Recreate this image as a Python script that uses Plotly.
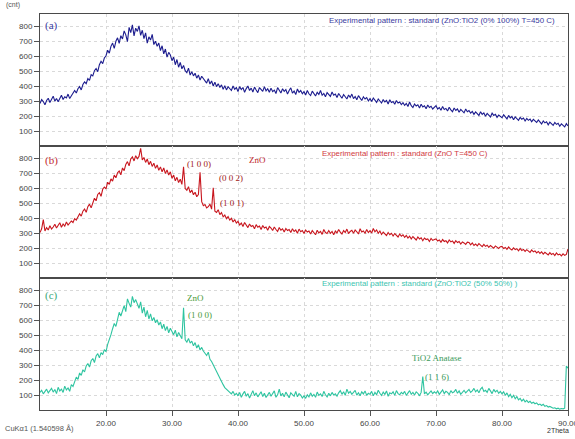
import plotly.graph_objects as go
from plotly.subplots import make_subplots

# 2theta sampling grid (degrees), 0.25 deg step from 10 to 90
two_theta = [10 + 0.25 * i for i in range(321)]

# (a) ZnO:TiO2 (0% 100%) T=450 C
intensity_a = [
    285, 312, 298, 276, 305, 320, 292, 310, 334, 301, 318, 296, 325, 340, 312, 330, 322, 348, 318, 336,
    348, 372, 355, 384, 398, 376, 412, 430, 418, 452, 440, 478, 470, 505, 520, 498, 545, 568, 552, 590,
    605, 642, 622, 668, 690, 655, 702, 725, 688, 740, 718, 772, 745, 700, 795, 760, 812, 738, 790, 768,
    805, 742, 776, 720, 758, 690, 732, 710, 748, 680, 702, 668, 690, 640, 672, 618, 650, 596, 628, 610,
    572, 596, 545, 580, 528, 560, 518, 540, 505, 492, 522, 476, 498, 470, 488, 455, 476, 442, 468, 450,
    438, 422, 452, 415, 436, 402, 428, 398, 418, 392, 410, 380, 404, 376, 398, 385, 372, 402, 380, 392,
    365, 398, 378, 392, 360, 385, 402, 372, 388, 362, 395, 375, 358, 392, 380, 366, 398, 370, 384, 360,
    388, 365, 375, 352, 392, 370, 355, 384, 366, 378, 348, 372, 390, 355, 368, 345, 382, 360, 372, 350,
    365, 342, 372, 350, 338, 368, 352, 335, 360, 346, 372, 340, 352, 330, 358, 345, 332, 362, 340, 348,
    325, 352, 338, 320, 345, 330, 315, 342, 326, 348, 318, 332, 310, 338, 322, 305, 330, 315, 325, 302,
    318, 298, 322, 305, 292, 315, 300, 288, 312, 295, 305, 282, 310, 292, 298, 280, 305, 288, 295, 278,
    290, 272, 285, 265, 295, 270, 258, 282, 268, 276, 255, 280, 262, 270, 250, 275, 258, 266, 248, 262,
    270, 248, 258, 240, 265, 245, 252, 235, 260, 242, 230, 255, 238, 248, 226, 245, 236, 222, 248, 230,
    238, 220, 232, 212, 228, 218, 205, 230, 212, 222, 200, 218, 208, 195, 220, 205, 212, 192, 208, 198,
    190, 210, 195, 182, 205, 188, 198, 176, 195, 182, 172, 192, 180, 188, 168, 185, 172, 180, 162, 178,
    170, 158, 175, 160, 148, 168, 155, 162, 142, 160, 150, 138, 158, 145, 152, 132, 148, 140, 128, 150,
    135,
]

# (b) ZnO T=450 C
intensity_b = [
    305, 330, 392, 315, 338, 322, 350, 328, 342, 360, 335, 352, 370, 340, 362, 348, 375, 355, 368, 382,
    372, 398, 388, 412, 430, 415, 448, 462, 440, 478, 495, 470, 512, 535, 518, 560, 572, 548, 595, 610,
    598, 642, 628, 665, 650, 690, 672, 705, 718, 692, 738, 720, 762, 780, 752, 798, 812, 785, 820, 800,
    815, 870, 792, 808, 775, 798, 760, 782, 748, 770, 735, 758, 722, 745, 712, 738, 700, 725, 690, 712,
    668, 690, 652, 675, 640, 662, 628, 745, 600, 588, 612, 572, 590, 558, 575, 545, 560, 708, 512, 485,
    492, 470, 478, 495, 462, 605, 448, 440, 458, 425, 438, 410, 422, 398, 412, 388, 400, 375, 392, 368,
    380, 355, 368, 345, 372, 350, 338, 362, 345, 352, 330, 358, 340, 348, 325, 352, 335, 342, 320, 345,
    335, 318, 342, 325, 312, 338, 320, 330, 308, 332, 318, 325, 305, 330, 312, 322, 300, 328, 310, 318,
    298, 322, 308, 315, 295, 318, 305, 290, 320, 302, 312, 292, 325, 305, 298, 318, 300, 312, 290, 315,
    302, 325, 308, 295, 318, 305, 328, 298, 312, 320, 300, 322, 310, 295, 330, 308, 315, 300, 325, 305,
    318, 302, 332, 310, 322, 300, 315, 292, 308, 298, 285, 305, 290, 300, 282, 298, 288, 275, 295, 280,
    290, 272, 285, 268, 280, 262, 278, 268, 255, 275, 262, 270, 250, 268, 258, 262, 245, 265, 252, 258,
    262, 248, 255, 240, 258, 245, 250, 235, 255, 242, 248, 232, 250, 238, 245, 228, 242, 235, 225, 240,
    238, 222, 235, 218, 228, 215, 230, 220, 210, 225, 212, 220, 205, 218, 210, 200, 215, 205, 198, 210,
    212, 198, 205, 192, 208, 195, 188, 202, 190, 196, 182, 198, 185, 192, 178, 190, 182, 172, 188, 176,
    182, 168, 178, 165, 175, 160, 172, 162, 155, 170, 158, 165, 150, 168, 155, 160, 148, 162, 152, 158,
    195,
]

# (c) ZnO:TiO2 (50% 50%)
intensity_c = [
    118, 132, 108, 125, 140, 115, 130, 145, 120, 138, 110, 152, 128, 140, 118, 160, 135, 148, 125, 170,
    158, 195, 220, 205, 248, 232, 270, 255, 295, 312, 288, 330, 345, 318, 362, 378, 350, 385, 372, 405,
    392, 440, 470, 505, 545, 580, 560, 620, 655, 630, 672, 700, 660, 745, 715, 690, 762, 720, 740, 705,
    682, 725, 650, 690, 625, 668, 610, 645, 598, 620, 585, 605, 570, 590, 545, 575, 532, 560, 518, 548,
    525, 505, 535, 490, 520, 498, 478, 685, 470, 455, 480, 448, 462, 430, 452, 415, 438, 402, 420, 395,
    380, 365, 388, 340, 325, 302, 280, 252, 228, 205, 185, 170, 150, 138, 125, 118, 108, 125, 100, 112,
    95, 118, 85, 108, 125, 92, 110, 80, 102, 130, 95, 115, 88, 105, 122, 90, 112, 84, 100, 118,
    92, 108, 128, 85, 102, 140, 95, 112, 88, 120, 98, 82, 115, 105, 92, 125, 88, 110, 100, 80,
    95, 78, 102, 88, 115, 92, 105, 85, 120, 98, 108, 90, 125, 102, 88, 112, 95, 118, 100, 108,
    92, 115, 130, 105, 122, 98, 140, 112, 125, 105, 118, 132, 100, 115, 95, 122, 108, 128, 98, 112,
    105, 125, 95, 118, 102, 132, 112, 98, 120, 105, 128, 92, 115, 108, 122, 98, 130, 110, 102, 118,
    108, 125, 98, 115, 130, 105, 118, 100, 122, 112, 95, 118, 225, 108, 120, 102, 115, 128, 110, 122,
    112, 128, 105, 122, 135, 110, 125, 118, 102, 130, 115, 122, 138, 112, 128, 105, 120, 132, 115, 125,
    138, 118, 128, 145, 122, 135, 115, 140, 152, 125, 132, 118, 145, 128, 110, 138, 122, 132, 112, 125,
    108, 122, 98, 115, 90, 105, 82, 98, 75, 90, 68, 78, 60, 72, 55, 65, 50, 58, 45, 52,
    42, 48, 35, 40, 30, 38, 25, 30, 20, 24, 18, 12, 15, 8, 12, 6, 10, 8, 12, 295,
    280,
]

x_tick_vals = [20, 30, 40, 50, 60, 70, 80, 90]
x_tick_text = ["20.00", "30.00", "40.00", "50.00", "60.00", "70.00", "80.00", "90.00"]
y_tick_vals = [100, 200, 300, 400, 500, 600, 700, 800]
y_tick_text = ["100", "200", "300", "400", "500", "600", "700", "800"]

fig = make_subplots(rows=3, cols=1, shared_xaxes=True, vertical_spacing=0)

colors = ["#1c1c8e", "#c8161e", "#2ec4a0"]
series = [intensity_a, intensity_b, intensity_c]
for i, (ys, c) in enumerate(zip(series, colors)):
    fig.add_trace(go.Scatter(x=two_theta, y=ys, mode="lines",
                             line=dict(color=c, width=1.1),
                             showlegend=False, hoverinfo="skip"),
                  row=i + 1, col=1)

axis_common = dict(showline=True, linecolor="#4a4a4a", linewidth=1, mirror=True,
                   showgrid=True, gridcolor="#d9d9d9", griddash="dot", gridwidth=1,
                   zeroline=False, automargin=False)
for r in (1, 2, 3):
    fig.update_yaxes(range=[0, 885], tickvals=y_tick_vals, ticktext=y_tick_text,
                     ticks="outside", ticklen=5, tickcolor="#555",
                     tickfont=dict(family="Liberation Sans", size=8, color="#444"),
                     row=r, col=1, **axis_common)
    fig.update_xaxes(range=[10, 90], tickvals=x_tick_vals, ticktext=x_tick_text,
                     ticks="outside" if r == 3 else "", ticklen=5, tickcolor="#555",
                     showticklabels=(r == 3), ticklabeloverflow="allow",
                     tickfont=dict(family="Liberation Sans", size=8, color="#444"),
                     row=r, col=1, **axis_common)

serif = "Liberation Serif"
sans = "Liberation Sans"
ann = []

def add(text, x, y, xref, yref, color, size, family, xanchor="center"):
    ann.append(dict(text=text, x=x, y=y, xref=xref, yref=yref, showarrow=False,
                    font=dict(color=color, size=size, family=family),
                    xanchor=xanchor, yanchor="middle"))

# panel (a)
add("(a)", 11.8, 810, "x", "y", "#3a3a9e", 11, serif)
add("Experimental pattern : standard (ZnO:TiO2 (0% 100%) T=450 C)", 88.4, 841, "x", "y",
    "#3a3a9e", 7.9, sans, "right")
# panel (b)
add("(b)", 11.8, 787, "x2", "y2", "#c0282e", 11, serif)
add("(1 0 0)", 34.1, 767, "x2", "y2", "#a02020", 9, serif)
add("ZnO", 43.0, 794, "x2", "y2", "#c0282e", 9, serif)
add("(0 0 2)", 38.9, 673, "x2", "y2", "#a02020", 9, serif)
add("(1 0 1)", 39.1, 505, "x2", "y2", "#a02020", 9, serif)
add("Experimental pattern : standard (ZnO T=450 C)", 78.2, 834, "x2", "y2",
    "#d0383e", 7.9, sans, "right")
# panel (c)
add("(c)", 11.8, 767, "x3", "y3", "#38a878", 11, serif)
add("ZnO", 33.6, 754, "x3", "y3", "#4a9a3a", 9, serif)
add("(1 0 0)", 34.2, 639, "x3", "y3", "#4a9a3a", 9, serif)
add("Experimental pattern : standard (ZnO:TiO2 (50% 50%) )", 82.8, 848, "x3", "y3",
    "#3cc4b0", 7.9, sans, "right")
add("TiO2 Anatase", 70.0, 350, "x3", "y3", "#3a9a5a", 9, serif)
add("(1 1 6)", 70.2, 222, "x3", "y3", "#3a9a5a", 9, serif)

# outside texts (paper coords)
ann.append(dict(text="(cnt)", x=-0.068, y=1.023, xref="paper", yref="paper", showarrow=False,
                font=dict(size=7, color="#555", family=sans), xanchor="left", yanchor="middle"))
ann.append(dict(text="CuKα1 (1.540598 Å)", x=-0.07, y=-0.047, xref="paper", yref="paper",
                showarrow=False, font=dict(size=7.5, color="#555", family=sans),
                xanchor="left", yanchor="middle"))
ann.append(dict(text="2Theta", x=1.006, y=-0.052, xref="paper", yref="paper",
                showarrow=False, font=dict(size=7, color="#333", family=sans),
                xanchor="right", yanchor="middle"))

fig.update_layout(width=575, height=439, margin=dict(l=40, r=7, t=14, b=29),
                  paper_bgcolor="white", plot_bgcolor="white", annotations=ann)

fig.write_html("out.html", config={"displayModeBar": False},
               post_script="document.body.style.margin='0';document.body.style.overflow='hidden';")
